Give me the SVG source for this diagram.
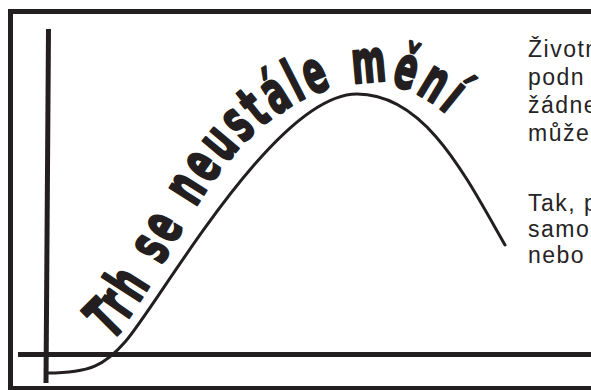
<svg xmlns="http://www.w3.org/2000/svg" width="591" height="390" viewBox="0 0 591 390">
  <style>
    .frame { fill: none; stroke: #231f20; stroke-width: 5; }
    .axis { stroke: #231f20; stroke-width: 5; fill: none; }
    .curve { stroke: #231f20; stroke-width: 3; fill: none; stroke-linecap: round; }
    .body { font-family: "Liberation Sans", Arial, sans-serif; font-size: 23px; fill: #262324; letter-spacing: 1.5px; }
    .t { font-family: "DejaVu Sans", "Liberation Sans", sans-serif; font-weight: bold; font-size: 59px; fill: #231f20; stroke: #231f20; stroke-width: 2.4; stroke-linejoin: round; }
  </style>
  <rect width="591" height="390" fill="#ffffff"/>
  <g id="frame">
    <rect class="frame" x="10.5" y="11.5" width="600" height="377"/>
  </g>
  <g id="axes">
    <line class="axis" x1="48.5" y1="29" x2="46" y2="383"/>
    <line class="axis" x1="18" y1="354.5" x2="591" y2="354.5"/>
  </g>
  <g id="connectors">
    <path class="curve" d="M 48,373 C 90,373 105,365 125,342 C 160,302 275,94 357,94 C 425,94 465,175 505,245"/>
  </g>
  <g id="title">
    <text class="t" transform="translate(111.1,341.4) rotate(-45) scale(0.56,1)">T</text>
    <text class="t" transform="translate(126.9,320.6) rotate(-55) scale(0.56,1)">r</text>
    <text class="t" transform="translate(138,304) rotate(-57.4) scale(0.56,1)">h</text>
    <text class="t" transform="translate(161.3,265.6) rotate(-60) scale(0.56,1)">s</text>
    <text class="t" transform="translate(172.9,245.4) rotate(-59.8) scale(0.56,1)">e</text>
    <text class="t" transform="translate(195.3,207.8) rotate(-57.5) scale(0.56,1)">n</text>
    <text class="t" transform="translate(210.1,185) rotate(-54.5) scale(0.56,1)">e</text>
    <text class="t" transform="translate(225.4,164) rotate(-50) scale(0.56,1)">u</text>
    <text class="t" transform="translate(243,143.4) rotate(-44) scale(0.56,1)">s</text>
    <text class="t" transform="translate(260.3,127.9) rotate(-39.5) scale(0.56,1)">t</text>
    <text class="t" transform="translate(275.5,115.7) rotate(-32) scale(0.56,1)">á</text>
    <text class="t" transform="translate(297.4,102) rotate(-27) scale(0.56,1)">l</text>
    <text class="t" transform="translate(311.2,95.8) rotate(-23) scale(0.56,1)">e</text>
    <text class="t" transform="translate(353,83.6) rotate(-5) scale(0.56,1)">m</text>
    <text class="t" transform="translate(390.5,84.3) rotate(17) scale(0.56,1)">ě</text>
    <text class="t" transform="translate(415.1,92.6) rotate(31) scale(0.56,1)">n</text>
    <text class="t" transform="translate(438.1,106.9) rotate(39) scale(0.56,1)">í</text>
  </g>
  <g id="description">
    <text class="body" x="528" y="57">Životn</text>
    <text class="body" x="528" y="85">podn</text>
    <text class="body" x="528" y="113">žádne</text>
    <text class="body" x="528" y="141">může</text>
    <text class="body" x="528" y="210.5">Tak, p</text>
    <text class="body" x="528" y="236.5">samo</text>
    <text class="body" x="528" y="263">nebo</text>
  </g>
</svg>
